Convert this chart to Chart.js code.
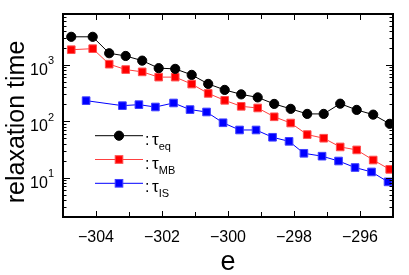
<!DOCTYPE html>
<html>
<head>
<meta charset="utf-8">
<script src="https://cdn.jsdelivr.net/npm/chart.js@4/dist/chart.umd.min.js"></script>
<style>
  html, body { margin: 0; padding: 0; background: #fff; }
  canvas { display: block; }
</style>
</head>
<body>
<canvas id="c" width="409" height="275"></canvas>
<script>
// ---- data ----
const eqE   = [-304.75, -304.1, -303.6, -303.1, -302.6, -302.1, -301.6, -301.1, -300.6, -300.1,
               -299.6, -299.1, -298.6, -298.1, -297.6, -297.1, -296.6, -296.1, -295.6, -295.1];
const tauEq = [3150, 3150, 1610, 1440, 1190, 875, 850, 665, 460, 360,
               300, 265, 203, 166, 135, 135, 205, 159, 131, 90];
const tauMB = [1860, 1940, 1030, 826, 752, 607, 607, 457, 312, 235,
               184, 172, 120, 93, 58, 50, 35, 31, 20.5, 14];
const isE   = [-304.3, -303.2, -302.7, -302.2, -301.65, -301.15, -300.65, -300.15, -299.65,
               -299.15, -298.65, -298.15, -297.7, -297.15, -296.65, -296.15, -295.65, -295.15];
const tauIS = [232, 189, 197, 179, 211, 161, 146, 94, 70,
               70, 52, 44, 27, 24, 19.7, 15.1, 12.6, 8.4];

const xTickValues = [-304, -302, -300, -298, -296];
const yTickValues = [10, 100, 1000];
const yTickBases  = ['10', '10', '10'];
const yTickExps   = ['1', '2', '3'];
const seriesSubs  = ['eq', 'MB', 'IS'];
const xTitle = 'e';
const yTitle = 'relaxation time';

const FONT = '"Liberation Sans", Arial, Helvetica, sans-serif';

function pts(xs, ys) { return xs.map((x, i) => ({ x: x, y: ys[i] })); }

const decor = {
  id: 'decor',
  afterDatasetsDraw(chart) {
    const { ctx, chartArea: a, scales: { x, y } } = chart;
    ctx.save();
    ctx.strokeStyle = '#000';
    // ticks
    ctx.lineWidth = 1;
    ctx.beginPath();
    for (let v = -304; v <= -296; v++) {
      const px = Math.round(x.getPixelForValue(v)) + 0.5;
      const L = (v % 2 === 0) ? 6 : 5;
      ctx.moveTo(px, a.bottom); ctx.lineTo(px, a.bottom - L);
      ctx.moveTo(px, a.top); ctx.lineTo(px, a.top + L);
    }
    for (let d = 1; d <= 1000; d *= 10) {
      for (let m = 1; m <= 9; m++) {
        const v = m * d;
        if (v < y.min || v > y.max) continue;
        const py = Math.round(y.getPixelForValue(v)) + 0.5;
        const L = m === 1 ? 7 : 3.5;
        ctx.moveTo(a.left, py); ctx.lineTo(a.left + L, py);
        ctx.moveTo(a.right, py); ctx.lineTo(a.right - L, py);
      }
    }
    ctx.stroke();
    // frame
    ctx.lineWidth = 2;
    ctx.strokeRect(a.left, a.top, a.right - a.left, a.bottom - a.top);

    ctx.fillStyle = '#000';
    // x tick labels
    ctx.font = '16px ' + FONT;
    ctx.textAlign = 'center';
    ctx.textBaseline = 'alphabetic';
    xTickValues.forEach(v => {
      const lbl = String(v).replace('-', '\u2212');
      ctx.fillText(lbl, x.getPixelForValue(v), 242);
    });
    // y tick labels with superscript
    yTickValues.forEach((v, i) => {
      const py = y.getPixelForValue(v);
      ctx.font = '11px ' + FONT;
      const sw = ctx.measureText(yTickExps[i]).width;
      ctx.textAlign = 'right';
      ctx.fillText(yTickExps[i], 54, py - 0.5);
      ctx.font = '16px ' + FONT;
      ctx.fillText(yTickBases[i], 54 - sw, py + 10);
    });
    // axis titles
    ctx.textAlign = 'center';
    ctx.font = '27px ' + FONT;
    ctx.fillText(xTitle, (a.left + a.right) / 2, 270);
    ctx.save();
    ctx.translate(24, 122);
    ctx.rotate(-Math.PI / 2);
    ctx.font = '25px ' + FONT;
    ctx.fillText(yTitle, 0, 0);
    ctx.restore();

    // legend
    const legY = [135.7, 159.5, 183.3];
    chart.data.datasets.forEach((ds, i) => {
      const yy = legY[i];
      ctx.strokeStyle = ds.borderColor;
      ctx.lineWidth = 1;
      ctx.beginPath();
      ctx.moveTo(95, yy); ctx.lineTo(143, yy);
      ctx.stroke();
      ctx.fillStyle = ds.pointBackgroundColor;
      ctx.strokeStyle = ds.pointBorderColor;
      ctx.lineWidth = ds.pointBorderWidth;
      if (ds.pointStyle === 'circle') {
        ctx.beginPath(); ctx.arc(119, yy, ds.pointRadius, 0, Math.PI * 2); ctx.fill(); ctx.stroke();
      } else {
        const s = ds.pointRadius * Math.SQRT1_2;
        ctx.fillRect(119 - s, yy - s, 2 * s, 2 * s);
        ctx.strokeRect(119 - s, yy - s, 2 * s, 2 * s);
      }
      ctx.fillStyle = '#000';
      ctx.textAlign = 'left';
      ctx.font = '16px ' + FONT;
      ctx.fillText(':', 145, yy + 9);
      ctx.font = '17px ' + FONT;
      ctx.fillText('\u03c4', 152, yy + 9);
      const tw = ctx.measureText('\u03c4').width;
      ctx.font = '11px ' + FONT;
      ctx.fillText(seriesSubs[i], 152 + tw, yy + 14);
    });
    ctx.restore();
  }
};

new Chart(document.getElementById('c'), {
  type: 'scatter',
  data: {
    datasets: [
      { label: '\u03c4eq', data: pts(eqE, tauEq), showLine: true,
        borderColor: '#000000', borderWidth: 1,
        pointStyle: 'circle', pointRadius: 4.6, pointBackgroundColor: '#000000',
        pointBorderColor: '#000000', pointBorderWidth: 1, clip: 0 },
      { label: '\u03c4MB', data: pts(eqE, tauMB), showLine: true,
        borderColor: '#ff4040', borderWidth: 1,
        pointStyle: 'rect', pointRadius: 5.4, pointBackgroundColor: '#ff0000',
        pointBorderColor: '#ff5050', pointBorderWidth: 1, clip: 0 },
      { label: '\u03c4IS', data: pts(isE, tauIS), showLine: true,
        borderColor: '#0000ff', borderWidth: 1,
        pointStyle: 'rect', pointRadius: 5.4, pointBackgroundColor: '#0000ff',
        pointBorderColor: '#4040ff', pointBorderWidth: 1, clip: 0 }
    ]
  },
  options: {
    responsive: false,
    animation: false,
    devicePixelRatio: 1,
    layout: { padding: { left: 63, right: 16, top: 14, bottom: 58 } },
    plugins: { legend: { display: false }, tooltip: { enabled: false } },
    scales: {
      x: { type: 'linear', min: -305, max: -295, display: false },
      y: { type: 'logarithmic', min: 2, max: 8000, display: false }
    }
  },
  plugins: [decor]
});
</script>
</body>
</html>
